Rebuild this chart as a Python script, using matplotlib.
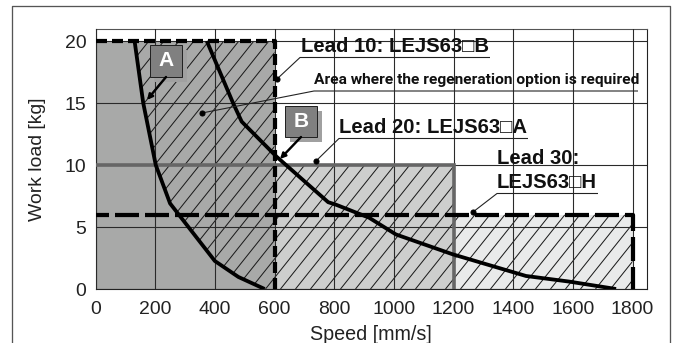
import matplotlib
matplotlib.use("Agg")
import matplotlib.pyplot as plt
from matplotlib.collections import LineCollection
from matplotlib.lines import Line2D
from matplotlib.patches import Rectangle, Polygon
from matplotlib.transforms import IdentityTransform

W, H, DPI = 676, 343, 78
PT = 72 / DPI
plt.rcParams['font.family'] = ['Liberation Sans', 'DejaVu Sans']

x_ticks = [0, 200, 400, 600, 800, 1000, 1200, 1400, 1600, 1800]
y_ticks = [0, 5, 10, 15, 20]
curve_a_speed = [131, 160, 202, 250, 400, 479, 567]
curve_a_load = [20, 15, 10, 6.9, 2.26, 0.97, 0]
curve_b_speed = [373, 461, 490, 607, 780, 806, 917, 1007, 1197, 1443, 1587, 1745]
curve_b_load = [20, 15, 13.5, 10.67, 7.0, 6.8, 5.75, 4.4, 2.8, 1.05, 0.6, 0]
lead_10 = (600, 20)
lead_20 = (1200, 10)
lead_30 = (1800, 6)

X0, X1, Y0, Y1 = 95.5, 647.0, 289.0, 28.7
XMAX = (X1 - X0) / ((632.5 - X0) / 1800)
YMAX = (Y0 - Y1) / 12.4

fig = plt.figure(figsize=(W / DPI, H / DPI), dpi=DPI, facecolor='white')
ax = fig.add_axes([X0 / W, 1 - Y0 / H, (X1 - X0) / W, (Y0 - Y1) / H])
ax.set_xlim(0, XMAX)
ax.set_ylim(0, YMAX)

def P(px, py):
    return ((px - X0) / (X1 - X0) * XMAX, (Y0 - py) / (Y0 - Y1) * YMAX)

# filled regions
ax.add_patch(Rectangle((0, 0), lead_30[0], lead_30[1], fc='#e9eaea', ec='none', zorder=1))
ax.add_patch(Rectangle((0, 0), lead_20[0], lead_20[1], fc='#cdcecd', ec='none', zorder=1.1))
ax.add_patch(Rectangle((0, 0), lead_10[0], lead_10[1], fc='#a8a9a8', ec='none', zorder=1.2))

# hatched region: right of curve A, within the envelope
hatch_pts = list(zip(curve_a_speed, curve_a_load)) + [
    (lead_30[0], 0), lead_30, (lead_20[0], lead_30[1]), lead_20,
    (lead_10[0], lead_20[1]), lead_10]
hatch_area = Polygon(hatch_pts, closed=True, fc='none', ec='none', zorder=1.3)
ax.add_patch(hatch_area)
HATCH_STEP, HATCH_SLOPE, HATCH_PHASE = 15.0, 1.25, 5.0
rise = Y0 - Y1
segs = []
for k in range(-16, 45):
    bx = X0 + HATCH_PHASE + k * HATCH_STEP
    segs.append([(bx, H - Y0), (bx + rise / HATCH_SLOPE, H - Y1)])
hatch = LineCollection(segs, colors='#1a1a1a', linewidths=1.0 * PT, transform=IdentityTransform(), zorder=1.5)
ax.add_collection(hatch, autolim=False)
hatch.set_clip_path(hatch_area)

# grid
ax.set_xticks(x_ticks)
ax.set_yticks(y_ticks)
ax.grid(True, color='#2a2a2a', lw=1.1 * PT, zorder=2)
ax.set_axisbelow(False)
for gl in ax.get_xgridlines() + ax.get_ygridlines():
    gl.set_zorder(2)
ax.tick_params(length=0, labelsize=19.4 * PT, colors='#222222')
ax.tick_params(axis='x', pad=12 * PT)
ax.tick_params(axis='y', pad=9 * PT)
for n, s in ax.spines.items():
    s.set_color('#555555' if n == 'top' else '#222222')
    s.set_linewidth(1.1 * PT)
    s.set_zorder(2)
ax.set_xlabel('Speed [mm/s]', fontsize=19.8 * PT, color='#222222', labelpad=7 * PT)
ax.set_ylabel('Work load [kg]', fontsize=19.4 * PT, color='#222222', labelpad=19 * PT)

# boundaries
ax.plot([0, lead_20[0], lead_20[0]], [lead_20[1], lead_20[1], 0], color='#666666', lw=3.6 * PT,
        solid_joinstyle='miter', zorder=3)
ax.plot([0, lead_30[0], lead_30[0]], [lead_30[1], lead_30[1], 0], color='black', lw=4.2 * PT,
        linestyle=(11 / 4.2, (24 / 4.2, 6 / 4.2)), dash_capstyle='butt', zorder=4)
ax.plot([0, lead_10[0], lead_10[0]], [lead_10[1], lead_10[1], 0], color='black', lw=4.2 * PT,
        dashes=(11 / 4.2, 5 / 4.2), dash_capstyle='butt', zorder=4)
ax.plot(curve_a_speed, curve_a_load, color='black', lw=3.8 * PT, zorder=5, solid_capstyle='butt')
ax.plot(curve_b_speed, curve_b_load, color='black', lw=3.8 * PT, zorder=5, solid_capstyle='butt')

# labels and leaders
def label(px, py, s, size, family=None):
    x, y = P(px, py)
    kw = {'family': family} if family else {}
    ax.text(x, y, s, fontsize=size * PT, fontweight='bold', va='center', ha='left', color='#111111',
            zorder=6, **kw)

def white(px0, py0, px1, py1):
    a, b = P(px0, py1)
    c, d = P(px1, py0)
    ax.add_patch(Rectangle((a, b), c - a, d - b, fc='white', ec='none', zorder=2.5))

def leader(points):
    xs, ys = zip(*[P(*p) for p in points])
    ax.plot(xs, ys, color='#222222', lw=1.1 * PT, zorder=6, clip_on=False, solid_capstyle='butt')
    ax.plot(xs[-1], ys[-1], 'o', color='black', ms=5 * PT, zorder=6)

white(296, 33, 492, 62)
white(312, 66, 641, 96)
white(336, 112, 531, 144)
white(493, 146, 601, 199)
label(301, 47, 'Lead 10: LEJS63\u25a1B', 20.2)
label(314, 80, 'Area where the regeneration option is required', 15.5, family=['Roboto', 'DejaVu Sans'])
label(339, 127, 'Lead 20: LEJS63\u25a1A', 20.2)
label(497, 158, 'Lead 30:', 20.2)
label(497, 183, 'LEJS63\u25a1H', 20.2)
leader([(490, 57.5), (300, 57.5), (277, 79)])
leader([(638, 91), (314, 91), (202, 113)])
leader([(528, 138.5), (339, 138.5), (316, 161)])
leader([(598, 193.5), (497, 193.5), (473, 212)])

# badges
def badge(px0, py0, px1, py1, s, tip):
    a, b = P(px0 + 5, py1 + 5)
    c, d = P(px1 + 5, py0 + 5)
    ax.add_patch(Rectangle((a, b), c - a, d - b, fc='#a0a0a0', ec='none', zorder=7))
    a, b = P(px0, py1)
    c, d = P(px1, py0)
    ax.add_patch(Rectangle((a, b), c - a, d - b, fc='#808080', ec='#222222', lw=1 * PT, zorder=8))
    ax.text((a + c) / 2, (b + d) / 2, s, color='white', fontsize=21 * PT, fontweight='bold',
            ha='center', va='center', zorder=9)
    ax.annotate('', xy=P(*tip), xytext=P((px0 + px1) / 2, py1),
                arrowprops=dict(arrowstyle='-|>', color='black', lw=2.4 * PT, mutation_scale=10,
                                shrinkA=0, shrinkB=0), zorder=9)

badge(150, 45, 182, 77, 'A', (147, 100))
badge(285, 106, 317, 137, 'B', (280, 159))

# outer frame, open at the bottom
xs, ys = (12, 12, 670, 670), (343, 6, 6, 343)
fig.add_artist(Line2D([x / W for x in xs], [1 - y / H for y in ys], color='#555555', lw=1.3 * PT))

fig.savefig('out.png', dpi=DPI)
